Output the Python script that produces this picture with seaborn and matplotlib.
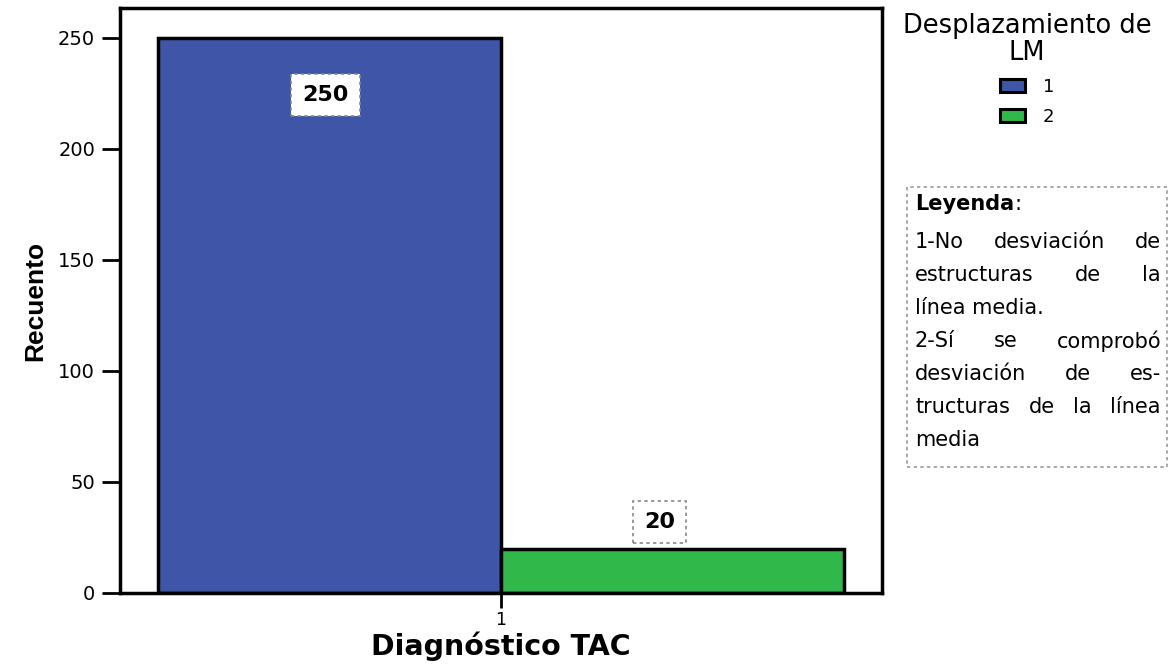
import matplotlib
matplotlib.use("Agg")
import matplotlib.pyplot as plt
from matplotlib.patches import Rectangle
import seaborn as sns
import pandas as pd

# Data
diagnostico = ["1", "1"]
desplazamiento = ["1", "2"]
recuento = [250, 20]
colores = ["#3E55A8", "#30B84A"]

leyenda_titulo = "Leyenda"
leyenda_lineas = [
    ("1-No desviación de", True),
    ("estructuras de la", True),
    ("línea media.", False),
    ("2-Sí se comprobó", True),
    ("desviación de es-", True),
    ("tructuras de la línea", True),
    ("media", False),
]

df = pd.DataFrame({
    "Diagnóstico TAC": diagnostico,
    "Desplazamiento de LM": desplazamiento,
    "Recuento": recuento,
})

sns.set_style("white")
plt.rcParams["font.family"] = ["DejaVu Sans"]
for k in ["text.color", "axes.labelcolor", "xtick.color", "ytick.color"]:
    plt.rcParams[k] = "black"

W, H = 1171, 664
fig = plt.figure(figsize=(W / 100, H / 100), dpi=100)
ax = fig.add_axes([120 / W, 1 - 593 / H, (882 - 120) / W, (593 - 8) / H])


def fx(px):
    return px / W


def fy(py):
    return 1 - py / H


sns.barplot(data=df, x="Diagnóstico TAC", y="Recuento", hue="Desplazamiento de LM",
            palette=colores, width=0.9, edgecolor="black", linewidth=2.5,
            saturation=1, ax=ax)

ax.set_ylim(0, 263.5)
ax.set_xlim(-0.5, 0.5)
ax.set_yticks([0, 50, 100, 150, 200, 250])
for s in ax.spines.values():
    s.set_linewidth(2.5)
    s.set_color("black")
ax.tick_params(axis="y", direction="out", length=13, width=2, color="black",
               labelsize=14, pad=5, left=True)
ax.tick_params(axis="x", direction="out", length=11, width=2, color="black",
               labelsize=12.5, pad=2, bottom=True)
ax.set_ylabel("Recuento", family=["Liberation Sans Narrow", "Liberation Sans"],
              fontweight="bold", fontsize=19, labelpad=8)
ax.set_xlabel("Diagnóstico TAC", fontweight="bold", fontsize=20.5, labelpad=2)

# value labels in dotted boxes
box = dict(boxstyle="square,pad=0.5", fc="white", ec="#888888", ls=(0, (2, 2)), lw=1.2)
offsets = [(-3, -41), (-9.5, 19)]
for bar, val, off in zip(ax.patches, recuento, offsets):
    cx = bar.get_x() + bar.get_width() / 2
    ax.annotate(str(val), (cx, bar.get_height()),
                xytext=off, textcoords="offset points",
                ha="center", va="center", fontsize=16, fontweight="bold",
                bbox=box)

# legend for the hue variable
leg = ax.legend(title="Desplazamiento de\nLM", loc="upper center",
                bbox_to_anchor=(fx(1027), fy(4)), bbox_transform=fig.transFigure,
                frameon=False, fontsize=13, title_fontsize=18.5,
                handlelength=1.4, handleheight=0.75, handletextpad=1.0,
                labelspacing=0.65, borderpad=0.0)
leg.get_title().set_multialignment("center")
leg.get_title().set_linespacing(1.05)
for p in leg.get_patches():
    p.set_edgecolor("black")
    p.set_linewidth(2.2)

# explanatory box with justified text
fig.patches.append(Rectangle((fx(907), fy(467)), fx(1167) - fx(907), fy(187) - fy(467),
                             transform=fig.transFigure, fill=False,
                             ec="#999999", lw=1.2, ls=(0, (2, 2))))
x0, x1 = 915, 1161
fs = 15
t = fig.text(fx(x0), fy(204), leyenda_titulo, fontsize=fs, fontweight="bold",
             ha="left", va="center")
fig.canvas.draw()
renderer = fig.canvas.get_renderer()
tw = t.get_window_extent(renderer).width
fig.text(fx(x0) + tw / W, fy(204), ":", fontsize=fs, ha="left", va="center")

y = 242
for linea, justificar in leyenda_lineas:
    words = linea.split()
    if not justificar or len(words) == 1:
        fig.text(fx(x0), fy(y), linea, fontsize=fs, ha="left", va="center")
    else:
        arts = [fig.text(0, fy(y), w, fontsize=fs, ha="left", va="center")
                for w in words]
        widths = [a.get_window_extent(renderer).width for a in arts]
        gap = (x1 - x0 - sum(widths)) / (len(words) - 1)
        xp = x0
        for a, wd in zip(arts, widths):
            a.set_x(fx(xp))
            xp += wd + gap
    y += 33

fig.savefig("out.png", dpi=100, facecolor="white")
